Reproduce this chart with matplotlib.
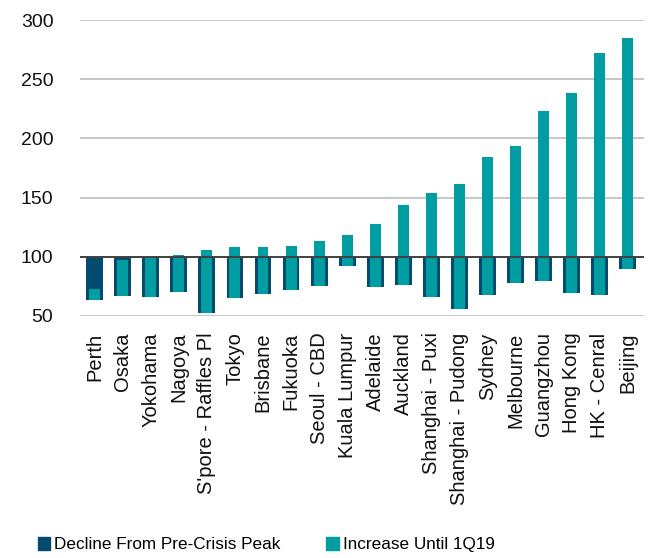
import numpy as np
import matplotlib.pyplot as plt
from matplotlib.patches import Patch

plt.rcParams['font.family'] = ['Liberation Sans', 'DejaVu Sans']

cities = ["Perth", "Osaka", "Yokohama", "Nagoya", "S'pore - Raffles Pl", "Tokyo",
          "Brisbane", "Fukuoka", "Seoul - CBD", "Kuala Lumpur", "Adelaide", "Auckland",
          "Shanghai - Puxi", "Shanghai - Pudong", "Sydney", "Melbourne", "Guangzhou",
          "Hong Kong", "HK - Cenral", "Beijing"]

# index = 100 at pre-crisis peak; trough level and level at 1Q19
trough = [63.6, 66.8, 65.9, 70.4, 52.0, 65.4, 68.4, 72.0, 75.2, 92.1, 74.0, 75.7,
          65.7, 55.6, 67.8, 77.4, 79.4, 68.9, 67.8, 89.6]
current = [72.7, 97.5, 99.5, 101.5, 105.7, 107.9, 107.9, 108.7, 113.5, 118.4, 127.7,
           143.7, 153.6, 161.4, 184.3, 193.3, 223.1, 238.7, 271.8, 284.5]

navy = "#004B6E"
teal = "#009EA2"

fig = plt.figure(figsize=(6.49, 5.58), dpi=100)
ax = fig.add_axes([0.123, 0.434, 0.870, 0.530])

x = np.arange(len(cities))
base = 100
ax.bar(x, np.array(trough) - base, bottom=base, width=0.6, color=navy, zorder=2)
ax.bar(x, np.array(current) - np.array(trough), bottom=trough, width=0.39,
       color=teal, zorder=3)

ax.set_ylim(50, 300)
ax.set_xlim(-0.53, 19.6)
ax.set_yticks([50, 100, 150, 200, 250, 300])
for v in [50, 150, 200, 250, 300]:
    ax.axhline(v, color="#C4C8CC", lw=1.4, zorder=1)
ax.axhline(base, color="#404040", lw=1.4, zorder=4)

for s in ax.spines.values():
    s.set_visible(False)
ax.tick_params(axis='y', length=0, labelsize=14, pad=19, colors="#111111")
ax.tick_params(axis='x', length=0, labelsize=14.5, pad=12, colors="#111111")
ax.set_xticks(x)
ax.set_xticklabels(cities, rotation=90, va='top', ha='center')

handles = [Patch(color=navy, label="Decline From Pre-Crisis Peak"),
           Patch(color=teal, label="Increase Until 1Q19")]
fig.legend(handles=handles, loc='center', bbox_to_anchor=(0.41, 0.024), ncol=2,
           frameon=False, fontsize=12.3, handlelength=0.75, handleheight=0.75,
           handletextpad=0.2, columnspacing=2.7)

fig.savefig("out.png", dpi=100)
